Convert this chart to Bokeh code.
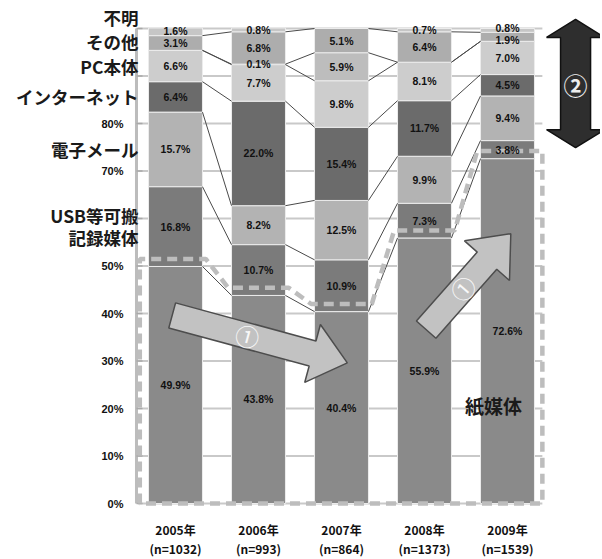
import math
from bokeh.plotting import figure
from bokeh.models import ColumnDataSource
from bokeh.core.properties import value
from bokeh.embed import file_html
from bokeh.resources import INLINE

# ---------------- data ----------------
years = ["2005年", "2006年", "2007年", "2008年", "2009年"]
sizes = ["(n=1032)", "(n=993)", "(n=864)", "(n=1373)", "(n=1539)"]

# stacked from bottom to top
paper = [49.9, 43.8, 40.4, 55.9, 72.6]      # 紙媒体
usb = [16.8, 10.7, 10.9, 7.3, 3.8]          # USB等可搬記録媒体
email = [15.7, 8.2, 12.5, 9.9, 9.4]         # 電子メール
internet = [6.4, 22.0, 15.4, 11.7, 4.5]     # インターネット
pc = [6.6, 7.7, 9.8, 8.1, 7.0]              # PC本体
extra = [0.0, 0.1, 5.9, 0.0, 0.0]           # (unlabelled segment)
other = [3.1, 6.8, 5.1, 6.4, 1.9]           # その他
unknown = [1.6, 0.8, 0.0, 0.7, 0.8]         # 不明

series = [paper, usb, email, internet, pc, extra, other, unknown]
series_names = ["紙媒体", "USB等可搬記録媒体", "電子メール", "インターネット",
                "PC本体", "", "その他", "不明"]
legend_lines = [["紙媒体"], ["USB等可搬", "記録媒体"], ["電子メール"], ["インターネット"],
                ["PC本体"], [], ["その他"], ["不明"]]
colors = ["#8a8a8a", "#7b7b7b", "#b3b3b3", "#6b6b6b", "#cdcdcd", "#bdbdbd", "#adadad", "#c6c6c6"]

y_ticks = list(range(0, 101, 10))
hidden_ticks = [60, 90, 100]

# ---------------- figure ----------------
SX = 83.0    # px per x unit
SY = 4.75    # px per percent
X0PX, Y0PX = 175.0, 503.0   # pixel position of first category / 0 %
WPX, HPX = 600, 557

p = figure(width=WPX, height=HPX, output_backend="svg", toolbar_location=None,
           x_range=(-X0PX / SX, (WPX - X0PX) / SX),
           y_range=((Y0PX - HPX) / SY, Y0PX / SY),
           min_border_left=0, min_border_right=0, min_border_top=0, min_border_bottom=0)
p.outline_line_color = None
p.xgrid.visible = False
p.ygrid.visible = False
p.xaxis.visible = False
p.yaxis.visible = False
p.background_fill_color = "white"
p.border_fill_color = "white"

n = len(years)
xs = list(range(n))
W = 0.65
AX = -0.47   # position of the value axis

# gridlines
p.segment(x0=[AX + 0.02] * len(y_ticks), x1=[4.42] * len(y_ticks), y0=y_ticks, y1=y_ticks,
          line_color="#c9c9c9", line_width=2)

# value axis line + ticks + labels
p.segment(x0=[AX], x1=[AX], y0=[0], y1=[100], line_color="#bcbcbc", line_width=3)
p.segment(x0=[AX] * len(y_ticks), x1=[AX + 6 / SX] * len(y_ticks), y0=y_ticks, y1=y_ticks,
          line_color="#a8a8a8", line_width=1.5)
tick_txt = [("" if t in hidden_ticks else f"{t}%") for t in y_ticks]
p.text(x=[AX - 13 / SX] * len(y_ticks), y=y_ticks, text=tick_txt, text_align="right",
       text_baseline="middle", text_font=value("Liberation Sans"), text_font_style="bold",
       text_font_size="11px", text_color="#111111")

# stacked bars
bottoms = [0.0] * n
bounds = []
for s, col in zip(series, colors):
    tops = [b + v for b, v in zip(bottoms, s)]
    src = ColumnDataSource(dict(x=xs, bottom=bottoms, top=tops))
    p.vbar(x="x", width=W, bottom="bottom", top="top", source=src,
           fill_color=col, line_color="#ececec", line_width=1)
    bounds.append(tops)
    bottoms = tops

# series lines between bars
x0s, x1s, y0s, y1s = [], [], [], []
for tops in bounds[:-1]:
    for i in range(n - 1):
        x0s.append(i + W / 2); x1s.append(i + 1 - W / 2)
        y0s.append(tops[i]); y1s.append(tops[i + 1])
p.segment(x0=x0s, x1=x1s, y0=y0s, y1=y1s, line_color="#4a4a4a", line_width=1)

# dashed highlight around paper segment
off = 1.6
L, R = -0.43, 4.42
hx = [L, L]
hy = [0, paper[0] + off]
for i in range(n):
    hx += [i - W / 2 - 0.04, i + W / 2 + 0.04]
    hy += [paper[i] + off, paper[i] + off]
hx[2] = L
hx += [R, R, L]
hy += [paper[-1] + off, 0, 0]
p.line(hx, hy, line_color="#bdbdbd", line_width=4.5, line_dash="10 6")

# value labels
lx, ly, lt = [], [], []
for i in range(n):
    items = []
    b = 0.0
    for s in series:
        v = s[i]
        if v > 0:
            items.append((b + v / 2, f"{v:.1f}%"))
        b += v
    items = items[::-1]  # top first
    ys = [c for c, _ in items]
    for _ in range(10):
        for j in range(len(ys) - 1):
            if ys[j] - ys[j + 1] < 2.5:
                m = (ys[j] + ys[j + 1]) / 2
                ys[j] = m + 1.25
                ys[j + 1] = m - 1.25
    for yv, (_, t) in zip(ys, items):
        lx.append(i); ly.append(yv); lt.append(t)
p.text(x=lx, y=ly, text=lt, text_align="center", text_baseline="middle",
       text_font=value("Liberation Sans"), text_font_style="bold",
       text_font_size="10.5px", text_color="#111111")


# ---------------- arrows ----------------
def block_arrow(x0, y0, x1, y1, body, head_w, head_len):
    X0, Y0, X1, Y1 = x0 * SX, y0 * SY, x1 * SX, y1 * SY
    L_ = math.hypot(X1 - X0, Y1 - Y0)
    dx, dy = (X1 - X0) / L_, (Y1 - Y0) / L_
    nx, ny = -dy, dx
    NX, NY = X1 - dx * head_len, Y1 - dy * head_len
    pts = [
        (X0 + nx * body / 2, Y0 + ny * body / 2),
        (NX + nx * body / 2, NY + ny * body / 2),
        (NX + nx * head_w / 2, NY + ny * head_w / 2),
        (X1, Y1),
        (NX - nx * head_w / 2, NY - ny * head_w / 2),
        (NX - nx * body / 2, NY - ny * body / 2),
        (X0 - nx * body / 2, Y0 - ny * body / 2),
    ]
    return [q[0] / SX for q in pts], [q[1] / SY for q in pts], math.atan2(dy, dx)


def double_arrow(x, y_top, y_bot, body, head_w, head_len):
    X = x * SX
    T, B = y_top * SY, y_bot * SY
    pts = [(X, T), (X + head_w / 2, T - head_len), (X + body / 2, T - head_len),
           (X + body / 2, B + head_len), (X + head_w / 2, B + head_len), (X, B),
           (X - head_w / 2, B + head_len), (X - body / 2, B + head_len),
           (X - body / 2, T - head_len), (X - head_w / 2, T - head_len)]
    return [q[0] / SX for q in pts], [q[1] / SY for q in pts]


arrows = [((-0.04, 39.6), (2.07, 29.6)), ((3.02, 36.6), (4.04, 56.8))]
for (ax0, ay0), (ax1, ay1) in arrows:
    px_, py_, ang = block_arrow(ax0, ay0, ax1, ay1, 26, 60, 36)
    p.patch(px_, py_, fill_color="#c2c2c2", line_color="#4d4d4d", line_width=1.5)
    cx = ax0 + (ax1 - ax0) * 0.43
    cy = ay0 + (ay1 - ay0) * 0.43
    p.text(x=[cx], y=[cy], text=["①"], angle=ang, text_align="center", text_baseline="middle",
           text_font=value("Noto Sans CJK JP"), text_font_size="24px", text_color="#f8f8f8")

dxs, dys = double_arrow(4.82, 101.9, 74.9, 30, 58, 18)
p.patch(dxs, dys, fill_color="#2e2e2e", line_color="#111111", line_width=1.5)
p.text(x=[4.82], y=[88.3], text=["②"], text_align="center", text_baseline="middle",
       text_font=value("Noto Sans CJK JP"), text_font_size="24px", text_color="#eeeeee",
       text_font_style="bold")

# ---------------- category labels (left) ----------------
centers = []
b = 0.0
for s in series:
    centers.append(b + s[0] / 2)
    b += s[0]
gx, gy, gt = [], [], []
prev = None
for k, lines in enumerate(legend_lines):
    if not lines or k == 0:
        continue
    yv = centers[k]
    if prev is not None and yv - prev < 5.1:
        yv = prev + 5.1
    prev = yv
    nl = len(lines)
    for j, t in enumerate(lines):
        gx.append(AX + 2 / SX)
        gy.append(yv + (nl - 1) * 2.3 - j * 4.6)
        gt.append(t)
p.text(x=gx, y=gy, text=gt, text_align="right", text_baseline="middle",
       text_font=value("Noto Sans CJK JP"), text_font_style="bold",
       text_font_size="17.5px", text_color="#1a1a1a")

p.text(x=[3.83], y=[20.6], text=[series_names[0]], text_align="center",
       text_baseline="middle", text_font=value("Noto Sans CJK JP"),
       text_font_style="bold", text_font_size="19px", text_color="#1a1a1a")

# category axis labels (year / sample size)
p.text(x=xs, y=[-26 / SY] * n, text=years, text_align="center", text_baseline="middle",
       text_font=value("Noto Sans CJK JP"), text_font_style="bold",
       text_font_size="12px", text_color="#111111")
p.text(x=xs, y=[-45 / SY] * n, text=sizes, text_align="center", text_baseline="middle",
       text_font=value("Noto Sans CJK JP"), text_font_style="bold",
       text_font_size="12px", text_color="#111111")

open("out.html", "w").write(file_html(p, INLINE))
